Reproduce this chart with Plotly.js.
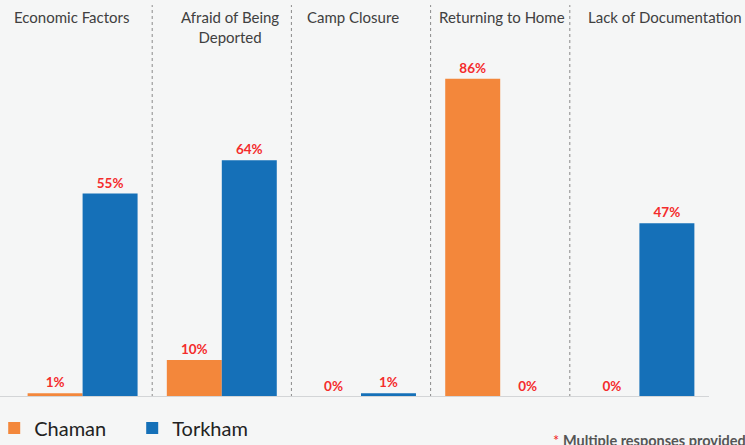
<!DOCTYPE html>
<html>
<head>
<meta charset="utf-8">
<script src="https://cdn.plot.ly/plotly-3.0.1.min.js"></script>
<style>html,body{margin:0;padding:0;background:#f5f6f6;}#chart{width:745px;height:445px;}</style>
</head>
<body>
<div id="chart"></div>
<script>
const categories = ["Economic Factors", "Afraid of Being<br>Deported", "Camp Closure", "Returning to Home", "Lack of Documentation"];
const chaman = [1, 10, 0, 86, 0];
const torkham = [55, 64, 1, 0, 47];
const seriesNames = ["Chaman", "Torkham"];
const footnote = "Multiple responses provided";

const labelFont = {family: "Lato, 'Open Sans', sans-serif", size: 13.5, color: "#f42c2c", weight: "bold"};
function barTrace(name, vals, color) {
  return {
    type: "bar", name: name, x: categories, y: vals,
    marker: {color: color},
    text: vals.map(v => "<b>" + v + "%</b>"),
    textposition: "outside", textfont: labelFont, cliponaxis: false,
    hoverinfo: "skip"
  };
}
const traces = [
  barTrace(seriesNames[0], chaman, "#f3873b"),
  barTrace(seriesNames[1], torkham, "#1570b8")
];

const titleShift = [-11, 8, -8, 2, 26];
const annotations = categories.map((c, i) => ({
  x: c, xref: "x", y: 1.159, yref: "paper", yanchor: "top", xanchor: "center",
  text: c, showarrow: false, xshift: titleShift[i],
  font: {family: "Lato, 'Open Sans', sans-serif", size: 15, color: "#404040"}
}));
annotations.push({
  x: 0.773, xref: "paper", y: -0.128, yref: "paper", xanchor: "left", yanchor: "middle",
  showarrow: false,
  text: "<span style='color:#f02020'>*</span> <b>" + footnote + "</b>",
  font: {family: "Lato, 'Open Sans', sans-serif", size: 14.5, color: "#555555"}
});

const shapes = [];
for (let i = 0; i < categories.length - 1; i++) {
  shapes.push({type: "line", xref: "x", yref: "paper", x0: i + 0.5, x1: i + 0.5, y0: 0, y1: 1.163,
    line: {color: "#8a8a8a", width: 1, dash: "dot"}});
}
shapes.push({type: "line", xref: "paper", yref: "y", x0: -0.02, x1: 1, y0: 0, y1: 0,
  line: {color: "#d3d5d7", width: 2}});

const layout = {
  width: 745, height: 445,
  margin: {l: 13, r: 36, t: 60, b: 48, autoexpand: false},
  paper_bgcolor: "#f5f6f6", plot_bgcolor: "#f5f6f6",
  barmode: "group", bargap: 0.21, bargroupgap: 0,
  xaxis: {showticklabels: false, showgrid: false, zeroline: false, showline: false, ticks: "", range: [-0.5, 4.5]},
  yaxis: {range: [0, 91.1], showticklabels: false, showgrid: false, zeroline: false, showline: false, ticks: ""},
  showlegend: true,
  legend: {orientation: "h", x: -0.027, xanchor: "left", y: -0.092, yanchor: "middle",
    font: {family: "Lato, 'Open Sans', sans-serif", size: 20, color: "#222222"},
    bgcolor: "rgba(0,0,0,0)", itemwidth: 30, traceorder: "normal",
    entrywidth: 93, entrywidthmode: "pixels"},
  annotations: annotations,
  shapes: shapes,
  font: {family: "Lato, 'Open Sans', sans-serif"}
};

Plotly.newPlot("chart", traces, layout, {displayModeBar: false, staticPlot: true});
</script>
</body>
</html>
